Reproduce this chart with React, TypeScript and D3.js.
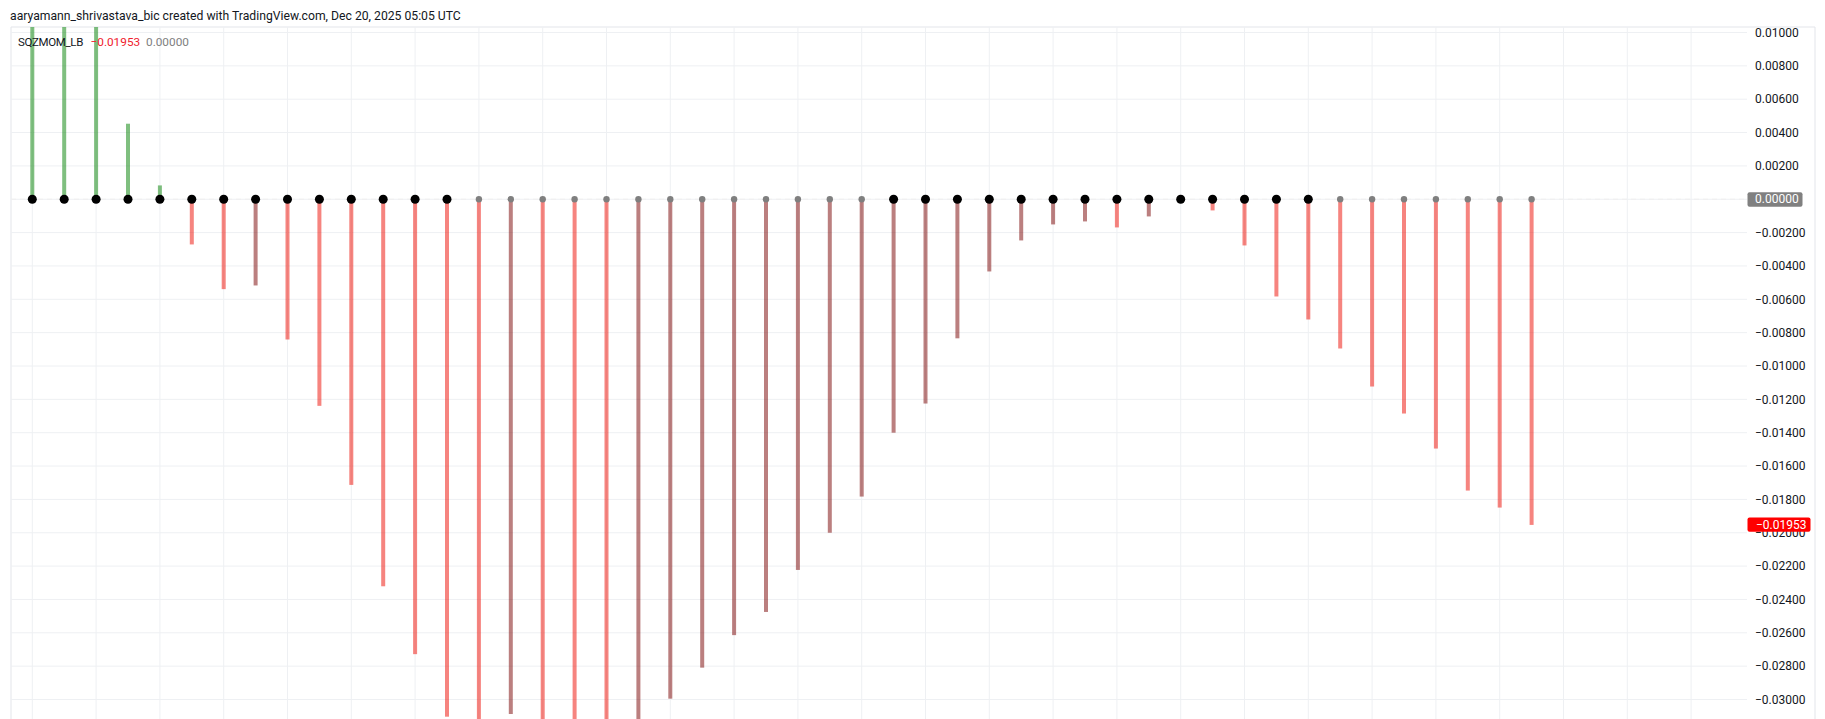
import React from 'react';
import * as d3 from 'd3';

const W = 1825;
const H = 719;

const titleText = 'aaryamann_shrivastava_bic created with TradingView.com, Dec 20, 2025 05:05 UTC';
const indicatorName = 'SQZMOM_LB';

// Squeeze momentum histogram values, one per bar
const momentum = [
  0.0125, 0.0118, 0.011, 0.00453, 0.00083, -0.00271, -0.00539, -0.00517,
  -0.00841, -0.01239, -0.01713, -0.02321, -0.02728, -0.03103, -0.0313, -0.03087,
  -0.0314, -0.0318, -0.0322, -0.0319, -0.02995, -0.02809, -0.02614, -0.02475,
  -0.02223, -0.02, -0.01783, -0.014, -0.01225, -0.00834, -0.00433, -0.00247,
  -0.00151, -0.00133, -0.00169, -0.00103, -0.00002, -0.00067, -0.00277, -0.00583,
  -0.00721, -0.00895, -0.01123, -0.01285, -0.01495, -0.01747, -0.01849, -0.01953,
];

// 1 = squeeze on (black dot), 0 = squeeze off (gray dot)
const squeezeOn = [
  1, 1, 1, 1, 1, 1, 1, 1, 1, 1, 1, 1, 1, 1,
  0, 0, 0, 0, 0, 0, 0, 0, 0, 0, 0, 0, 0,
  1, 1, 1, 1, 1, 1, 1, 1, 1, 1, 1, 1, 1, 1,
  0, 0, 0, 0, 0, 0, 0,
];

const yTickValues = [
  0.01, 0.008, 0.006, 0.004, 0.002, 0, -0.002, -0.004, -0.006, -0.008, -0.01,
  -0.012, -0.014, -0.016, -0.018, -0.02, -0.022, -0.024, -0.026, -0.028, -0.03,
];

const COLORS = {
  lime: 'rgba(0,255,0,0.5)',
  green: 'rgba(0,128,0,0.5)',
  red: 'rgba(238,10,0,0.5)',
  maroon: 'rgba(120,0,0,0.5)',
  grid: '#eef0f3',
  border: '#e3e5ea',
  text: '#131722',
  sqzOn: '#000000',
  sqzOff: '#7f7f7f',
};

function barColor(i: number): string {
  const v = momentum[i];
  const prev = i > 0 ? momentum[i - 1] : v;
  if (v > 0) return v > prev ? COLORS.lime : COLORS.green;
  return v < prev ? COLORS.red : COLORS.maroon;
}

export default function App() {
  const left = 11;
  const right = 1747;
  const top = 27;
  const bottom = H;
  const axisX = 1755;

  const x = d3.scaleLinear().domain([0, momentum.length - 1]).range([32.3, 1531.6]);
  const y = d3.scaleLinear().domain([-0.03, 0.01]).range([699.5, 32.5]);
  const fmt = d3.format('.5f');
  const gridIdx = d3.range(0, 80, 2).filter((i) => x(i) < right);
  const font = 'Roboto, sans-serif';
  const last = momentum[momentum.length - 1];
  const barW = 4;

  return (
    <svg
      width={W}
      height={H}
      style={{ position: 'absolute', left: 0, top: 0, background: '#fff' }}
      fontFamily={font}
    >
      <defs>
        <clipPath id="plotClip">
          <rect x={left} y={top} width={right - left} height={bottom - top} />
        </clipPath>
      </defs>
      <rect x={0} y={0} width={W} height={H} fill="#fff" />

      {/* frame */}
      <line x1={left} x2={1815} y1={top} y2={top} stroke={COLORS.border} />
      <line x1={left} x2={left} y1={top} y2={bottom} stroke={COLORS.border} />
      <line x1={1815} x2={1815} y1={top} y2={bottom} stroke={COLORS.border} />

      {/* grid */}
      <g>
        {yTickValues.map((t) => (
          <line key={'h' + t} x1={left} x2={right} y1={y(t)} y2={y(t)} stroke={COLORS.grid} />
        ))}
        {gridIdx.map((i) => (
          <line key={'v' + i} x1={x(i)} x2={x(i)} y1={top} y2={bottom} stroke={COLORS.grid} />
        ))}
      </g>

      <line
        x1={left}
        x2={right}
        y1={y(0)}
        y2={y(0)}
        stroke="#efefef"
        strokeDasharray="5 4"
      />

      {/* histogram */}
      <g clipPath="url(#plotClip)">
        {momentum.map((v, i) => {
          const y0 = y(0);
          const y1 = y(v);
          return (
            <rect
              key={'b' + i}
              x={x(i) - barW / 2}
              y={Math.min(y0, y1)}
              width={barW}
              height={Math.abs(y1 - y0)}
              fill={barColor(i)}
            />
          );
        })}
        {momentum.map((_, i) => (
          <circle
            key={'d' + i}
            cx={x(i)}
            cy={y(0)}
            r={squeezeOn[i] ? 4.5 : 3.2}
            fill={squeezeOn[i] ? COLORS.sqzOn : COLORS.sqzOff}
          />
        ))}
      </g>

      {/* right axis */}
      <g fontSize={12} fill={COLORS.text}>
        {yTickValues.map((t) => (
          <text key={'t' + t} x={axisX} y={y(t)} dy="0.35em">
            {fmt(t)}
          </text>
        ))}
      </g>

      {/* zero label */}
      <rect x={1747.5} y={y(0) - 7} width={55} height={14.4} rx={2} fill="#808080" />
      <text x={axisX} y={y(0)} dy="0.35em" fontSize={12} fill="#fff">
        {fmt(0)}
      </text>

      {/* last value label */}
      <rect x={1747.5} y={y(last) - 7.5} width={63} height={14.4} rx={2} fill="#ff0000" />
      <text x={axisX + 1} y={y(last)} dy="0.35em" fontSize={12} fill="#fff">
        {fmt(last)}
      </text>

      {/* title */}
      <text x={10} y={19.5} fontSize={12.2} fill={COLORS.text}>
        {titleText}
      </text>

      {/* legend */}
      <text x={18} y={45.5} fontSize={11.5} fill={COLORS.text} letterSpacing={-0.35}>
        {indicatorName}
      </text>
      <text x={90.5} y={45.5} fontSize={11.8} fill="#f0202c">
        {fmt(last)}
      </text>
      <text x={146} y={45.5} fontSize={11.8} fill="#808080">
        {fmt(0)}
      </text>
    </svg>
  );
}
